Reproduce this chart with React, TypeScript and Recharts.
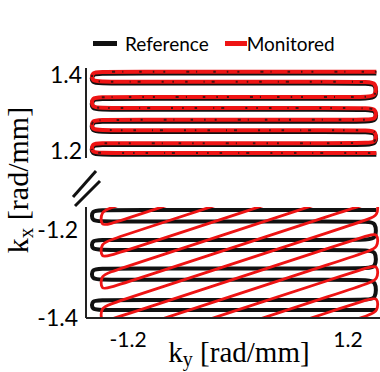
import { Line, LineChart, XAxis, YAxis } from "recharts";

// ky ticks (shared), kx ticks per panel
const kyTicks = [-1.2, 1.2];
const topKxTicks = [1.2, 1.4];
const bottomKxTicks = [-1.4, -1.2];

// readout lines, kx in rad/mm, listed top to bottom
const topRefRows = [1.404, 1.378, 1.338, 1.309, 1.278, 1.251, 1.217, 1.191];
const topMonRows = [1.408, 1.382, 1.342, 1.313, 1.282, 1.255, 1.221, 1.195];
const bottomRefRows = [-1.154, -1.18, -1.222, -1.245, -1.287, -1.313, -1.359, -1.382];

// monitored lines in the lower panel are sheared: kx at left end / right end
const bottomMonLeft = [-1.12, -1.156, -1.193, -1.229, -1.265, -1.302, -1.338, -1.375, -1.411, -1.448, -1.484, -1.521, -1.557, -1.594];
const bottomMonRight = [-0.912, -0.949, -0.985, -1.022, -1.058, -1.095, -1.131, -1.168, -1.204, -1.241, -1.277, -1.314, -1.35, -1.387];

// ky extent of the lines
const refKy = [-1.6, 1.51];
const monKy = [-1.5, 1.53];

const KY_DOMAIN: [number, number] = [-1.66, 1.55];
const TURN = 0.12; // how far from the end the turn starts rounding (ky units)

type Pt = { x: number; y: number };

// zig-zag path through the lines, turning at alternate ends
function raster(left: number[], right: number[], ky: number[], firstLeftward: boolean): Pt[] {
  const [x0, x1] = ky;
  const at = (i: number, x: number) => left[i] + ((right[i] - left[i]) * (x - x0)) / (x1 - x0);
  const pts: Pt[] = [];
  left.forEach((_, i) => {
    const leftward = (i % 2 === 0) === firstLeftward;
    const a = leftward ? x1 : x0;
    const b = leftward ? x0 : x1;
    const aIn = leftward ? x1 - TURN : x0 + TURN;
    const bIn = leftward ? x0 + TURN : x1 - TURN;
    pts.push({ x: a, y: at(i, a) }, { x: aIn, y: at(i, aIn) }, { x: bIn, y: at(i, bIn) }, { x: b, y: at(i, b) });
  });
  return pts;
}

const topRef = raster(topRefRows, topRefRows, refKy, true);
const topMon = raster(topMonRows, topMonRows, refKy, true);
const bottomRef = raster(bottomRefRows, bottomRefRows, refKy, true);
const bottomMon = raster(bottomMonLeft, bottomMonRight, monKy, false);

const BLACK = "#111";
const RED = "#ee1414";
const tickFont = { fontFamily: "Lato, sans-serif", fill: "#000" };

export default function App() {
  return (
    <div style={{ position: "absolute", left: 0, top: 0, width: 380, height: 372, background: "#fff", overflow: "hidden" }}>
      <div style={{ position: "absolute", left: 0, top: 0 }}>
        <LineChart width={380} height={372} margin={{ top: 68, right: 0, bottom: 214, left: 36 }}>
          <XAxis type="number" dataKey="x" domain={KY_DOMAIN} allowDataOverflow hide />
          <YAxis
            type="number"
            dataKey="y"
            domain={[1.182, 1.418]}
            allowDataOverflow
            ticks={topKxTicks}
            width={50}
            tickLine={false}
            tickSize={0}
            tickMargin={4}
            axisLine={{ stroke: "#222", strokeWidth: 2 }}
            tick={{ ...tickFont, fontSize: 23 }}
            tickFormatter={(v: number) => v.toFixed(1)}
          />
          <Line data={topRef} dataKey="y" type="basis" stroke={BLACK} strokeWidth={4.5} dot={false} isAnimationActive={false} />
          <Line data={topMon} dataKey="y" type="basis" stroke={RED} strokeWidth={4} dot={false} isAnimationActive={false} />
          {/* reference showing through the monitored trace */}
          <Line
            data={topMon}
            dataKey="y"
            type="basis"
            stroke={BLACK}
            strokeWidth={2}
            strokeDasharray="1.5 11 2.5 16 1 7 3 21 2 9"
            strokeOpacity={0.75}
            dot={false}
            isAnimationActive={false}
          />
        </LineChart>
      </div>
      <div style={{ position: "absolute", left: 0, top: 0 }}>
        <LineChart width={380} height={372} margin={{ top: 207, right: 0, bottom: 24, left: 36 }}>
          <XAxis
            type="number"
            dataKey="x"
            domain={KY_DOMAIN}
            allowDataOverflow
            ticks={kyTicks}
            height={30}
            tickLine={false}
            tickSize={0}
            tickMargin={14}
            axisLine={{ stroke: "#222", strokeWidth: 2 }}
            tick={{ ...tickFont, fontSize: 21 }}
            tickFormatter={(v: number) => v.toFixed(1)}
          />
          <YAxis
            type="number"
            dataKey="y"
            domain={[-1.4, -1.147]}
            allowDataOverflow
            ticks={bottomKxTicks}
            width={50}
            tickLine={false}
            tickSize={0}
            tickMargin={8}
            axisLine={{ stroke: "#222", strokeWidth: 2 }}
            tick={{ ...tickFont, fontSize: 23 }}
            tickFormatter={(v: number) => v.toFixed(1)}
          />
          <Line data={bottomRef} dataKey="y" type="basis" stroke={BLACK} strokeWidth={4} dot={false} isAnimationActive={false} />
          <Line data={bottomMon} dataKey="y" type="basis" stroke={RED} strokeWidth={2.8} dot={false} isAnimationActive={false} />
        </LineChart>
      </div>

      {/* axis titles and the axis break */}
      <svg width={380} height={372} style={{ position: "absolute", left: 0, top: 0, pointerEvents: "none" }}>
        <g stroke="#111" strokeWidth={3}>
          <line x1={73} y1={197} x2={96} y2={171} />
          <line x1={75} y1={206} x2={100} y2={181} />
        </g>
        <text
          transform="translate(28,180) rotate(-90)"
          textAnchor="middle"
          fontFamily="'Liberation Serif', serif"
          fontSize={30}
          fill="#000"
        >
          k<tspan fontSize={21} dy={5}>x</tspan>
          <tspan dy={-5}> [rad/mm]</tspan>
        </text>
        <text x={239} y={362} textAnchor="middle" fontFamily="'Liberation Serif', serif" fontSize={29} fill="#000">
          k<tspan fontSize={20} dy={4}>y</tspan>
          <tspan dy={-4}> [rad/mm]</tspan>
        </text>
      </svg>

      {/* legend */}
      <div
        style={{
          position: "absolute",
          left: 93,
          top: 32,
          display: "flex",
          alignItems: "center",
          fontFamily: "Lato, sans-serif",
          fontSize: 19,
          color: "#000",
          whiteSpace: "nowrap",
        }}
      >
        <span style={{ display: "inline-block", width: 24, height: 5, background: BLACK, marginRight: 8 }} />
        <span>Reference</span>
        <span style={{ display: "inline-block", width: 22, height: 5, background: RED, marginLeft: 16 }} />
        <span>Monitored</span>
      </div>
    </div>
  );
}
